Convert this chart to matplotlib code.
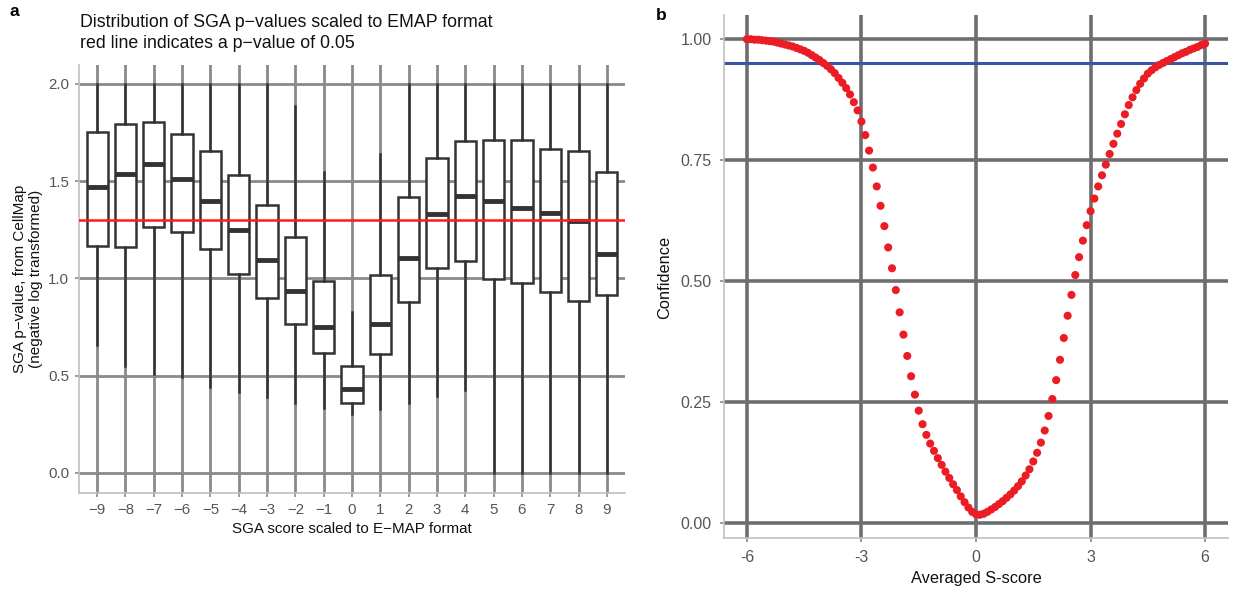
import matplotlib.pyplot as plt
import numpy as np

plt.rcParams['font.family'] = ['Liberation Sans', 'DejaVu Sans']

# ---- panel a: SGA p-values by scaled score (box stats)
scores = list(range(-9, 10))
q3 = [1.754, 1.795, 1.804, 1.742, 1.654, 1.534, 1.379, 1.213, 0.988, 0.548,
      1.020, 1.416, 1.621, 1.706, 1.713, 1.713, 1.666, 1.654, 1.549]
med = [1.469, 1.536, 1.590, 1.512, 1.398, 1.251, 1.094, 0.937, 0.750, 0.431,
       0.764, 1.106, 1.329, 1.425, 1.398, 1.363, 1.338, 1.295, 1.125]
q1 = [1.167, 1.160, 1.266, 1.241, 1.150, 1.024, 0.897, 0.764, 0.617, 0.359,
      0.612, 0.879, 1.056, 1.090, 0.995, 0.974, 0.928, 0.884, 0.914]
whis_lo = [0.659, 0.552, 0.509, 0.491, 0.440, 0.417, 0.393, 0.362, 0.336, 0.302,
           0.331, 0.359, 0.397, 0.426, 0.0, 0.0, 0.0, 0.0, 0.0]
whis_hi = [2.0, 2.0, 2.0, 2.0, 2.0, 2.0, 2.0, 1.887, 1.546, 0.828,
           1.642, 2.0, 2.0, 2.0, 2.0, 2.0, 2.0, 2.0, 2.0]
p_cut = 1.301  # -log10(0.05)

# ---- panel b: confidence vs averaged S-score
s_score = np.arange(-60, 61) / 10
confidence = [
    1.000, 1.000, 0.999, 0.999, 0.998, 0.997, 0.996, 0.995, 0.993, 0.991,
    0.989, 0.987, 0.985, 0.982, 0.979, 0.976, 0.972, 0.967, 0.962, 0.957,
    0.951, 0.945, 0.938, 0.930, 0.920, 0.910, 0.899, 0.886, 0.870, 0.853,
    0.830, 0.802, 0.770, 0.735, 0.696, 0.656, 0.614, 0.570, 0.527, 0.482,
    0.436, 0.390, 0.346, 0.304, 0.266, 0.233, 0.205, 0.183, 0.165, 0.150,
    0.135, 0.121, 0.107, 0.094, 0.081, 0.069, 0.056, 0.044, 0.033, 0.024,
    0.019,
    0.018, 0.020, 0.024, 0.029, 0.034, 0.040, 0.046, 0.053, 0.060, 0.068,
    0.077, 0.087, 0.099, 0.112, 0.128, 0.146, 0.167, 0.192, 0.222, 0.257,
    0.296, 0.338, 0.383, 0.429, 0.472, 0.513, 0.550, 0.584, 0.616, 0.645,
    0.671, 0.696, 0.719, 0.741, 0.763, 0.784, 0.805, 0.825, 0.845, 0.864,
    0.880, 0.895, 0.908, 0.919, 0.929, 0.936, 0.942, 0.947, 0.951, 0.955,
    0.959, 0.963, 0.967, 0.971, 0.974, 0.978, 0.981, 0.984, 0.988, 0.991,
]
conf_cut = 0.95

tick_col = '#555555'
spine_col = '#c0c0c0'

fig = plt.figure(figsize=(12.33, 5.92), dpi=100)

# ------------------------------------------------------------------ a
ax = fig.add_axes([79/1233, 1-493/592, 546/1233, 428/592])
for s in scores:
    ax.axvline(s, color='#8a8a8a', lw=2, zorder=0)
for y in [0, 0.5, 1.0, 1.5, 2.0]:
    ax.axhline(y, color='#8a8a8a', lw=2, zorder=0)

stats = []
for i in range(len(scores)):
    stats.append({'med': med[i], 'q1': q1[i], 'q3': q3[i],
                  'whislo': whis_lo[i], 'whishi': whis_hi[i], 'fliers': []})
ax.bxp(stats, positions=scores, widths=0.75, patch_artist=True,
       showcaps=False, manage_ticks=False,
       boxprops=dict(facecolor='white', edgecolor='#333333', lw=1.8),
       whiskerprops=dict(color='#333333', lw=1.8),
       medianprops=dict(color='#333333', lw=3.5, solid_capstyle='butt'),
       zorder=2)
ax.axhline(p_cut, color='#ff1a1a', lw=1.8, zorder=3)

ax.set_xlim(-9.64, 9.64)
ax.set_ylim(-0.103, 2.097)
ax.set_xticks(scores)
ax.set_xticklabels([str(s).replace('-', '\u2212') for s in scores])
ax.set_yticks([0, 0.5, 1.0, 1.5, 2.0])
ax.set_yticklabels(['0.0', '0.5', '1.0', '1.5', '2.0'])
for sp in ['top', 'right']:
    ax.spines[sp].set_visible(False)
for sp in ['left', 'bottom']:
    ax.spines[sp].set_color(spine_col)
    ax.spines[sp].set_linewidth(1.2)
ax.tick_params(colors='#8a8a8a', labelcolor=tick_col, labelsize=10.8,
               length=3, width=1.2, pad=4)

fig.text(80/1233, 1-14/592,
         'Distribution of SGA p\u2212values scaled to EMAP format\n'
         'red line indicates a p\u2212value of 0.05',
         ha='left', va='top', fontsize=12.8, linespacing=1.3, color='#111111')
fig.text(28/1233, 1-279/592,
         'SGA p\u2212value, from CellMap\n(negative log transformed)',
         rotation=90, ha='center', va='center', fontsize=11,
         multialignment='center', linespacing=1.2, color='#111111')
fig.text(352/1233, 1-529/592, 'SGA score scaled to E\u2212MAP format',
         ha='center', va='center', fontsize=10.9, color='#111111')
fig.text(10/1233, 1-12/592, 'a', fontweight='bold', fontsize=12.5,
         ha='left', va='center')

# ------------------------------------------------------------------ b
bx = fig.add_axes([724/1233, 1-538/592, 504/1233, 523/592])
for x in [-6, -3, 0, 3, 6]:
    bx.axvline(x, color='#6e6e6e', lw=2.6, zorder=0)
for y in [0, 0.25, 0.5, 0.75, 1.0]:
    bx.axhline(y, color='#6e6e6e', lw=2.6, zorder=0)
bx.axhline(conf_cut, color='#3a55a6', lw=2.2, zorder=2)
bx.scatter(s_score, confidence, s=34, color='#ec1c24', edgecolors='none',
           zorder=3)

bx.set_xlim(-6.6, 6.6)
bx.set_ylim(-0.03, 1.05)
bx.set_xticks([-6, -3, 0, 3, 6])
bx.set_xticklabels(['-6', '-3', '0', '3', '6'])
bx.set_yticks([0, 0.25, 0.5, 0.75, 1.0])
bx.set_yticklabels(['0.00', '0.25', '0.50', '0.75', '1.00'])
for sp in ['top', 'right']:
    bx.spines[sp].set_visible(False)
for sp in ['left', 'bottom']:
    bx.spines[sp].set_color(spine_col)
    bx.spines[sp].set_linewidth(1.2)
bx.tick_params(colors='#8a8a8a', labelcolor=tick_col, labelsize=11.5,
               length=3, width=1.2, pad=6)

fig.text(665/1233, 1-277/592, 'Confidence', rotation=90,
         ha='center', va='center', fontsize=11.8, color='#111111')
fig.text(976/1233, 1-578/592, 'Averaged S-score',
         ha='center', va='center', fontsize=11.8, color='#111111')
fig.text(656/1233, 1-15/592, 'b', fontweight='bold', fontsize=12.5,
         ha='left', va='center')

fig.savefig('out.png', dpi=100)
